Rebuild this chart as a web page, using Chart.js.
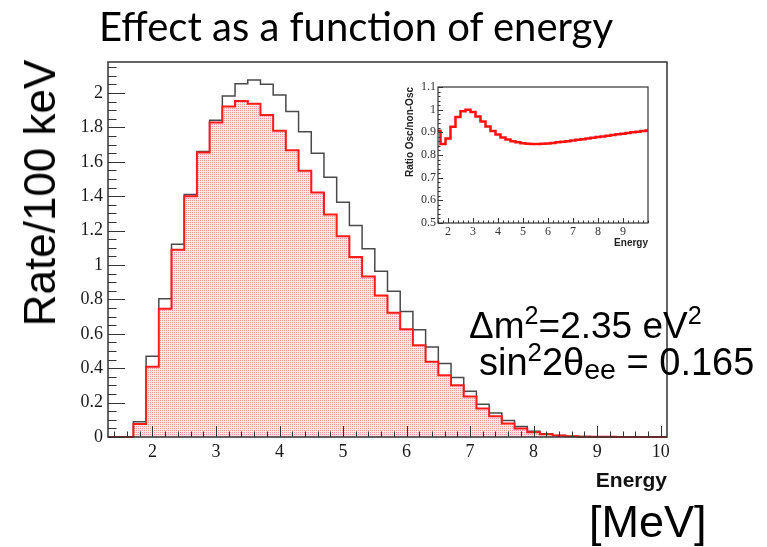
<!DOCTYPE html>
<html>
<head>
<meta charset="utf-8">
<script src="https://cdn.jsdelivr.net/npm/chart.js@4"></script>
<style>
  body { margin: 0; background: #fff; }
  #page { position: relative; width: 767px; height: 547px; overflow: hidden; font-family: "Liberation Sans", Arial, sans-serif; color: #000; }
  canvas { position: absolute; display: block; }
  .txt { position: absolute; white-space: nowrap; line-height: 1; }
  .txt sup { font-size: 0.68em; vertical-align: 0.55em; line-height: 0; }
  .txt sub { font-size: 0.75em; vertical-align: -0.15em; line-height: 0; }
  #title { left: 99px; top: 6px; font-family: Lato, "Open Sans", sans-serif; font-size: 40px; }
  #ylab { left: 40px; top: 193px; font-size: 44px; transform: translate(-50%, -50%) rotate(-90deg); }
  #unit { left: 589px; top: 499px; font-size: 45px; }
  #dm { left: 469px; top: 307px; font-size: 37px; }
  #s2 { left: 479px; top: 343px; font-size: 38px; }
</style>
</head>
<body>
<div id="page">
  <canvas id="main" width="767" height="547" style="left:0;top:0"></canvas>
  <canvas id="inset" width="260" height="185" style="left:400px;top:70px"></canvas>
  <div class="txt" id="title">Effect as a function of energy</div>
  <div class="txt" id="ylab">Rate/100 keV</div>
  <div class="txt" id="unit">[MeV]</div>
  <div class="txt" id="dm">Δm<sup>2</sup>=2.35 eV<sup>2</sup></div>
  <div class="txt" id="s2">sin<sup>2</sup>2θ<sub>ee</sub> = 0.165</div>
</div>
<script>
// energy bins (centres, MeV), 0.2 MeV wide
var energyBins = [1.4, 1.6, 1.8, 2.0, 2.2, 2.4, 2.6, 2.8, 3.0, 3.2, 3.4, 3.6, 3.8, 4.0, 4.2,
  4.4, 4.6, 4.8, 5.0, 5.2, 5.4, 5.6, 5.8, 6.0, 6.2, 6.4, 6.6, 6.8, 7.0, 7.2, 7.4, 7.6, 7.8,
  8.0, 8.2, 8.4, 8.6, 8.8, 9.0, 9.2, 9.4, 9.6, 9.8, 10.0];
var binHalf = 0.1;

// spectrum without oscillation
var noOscRate = [0, 0, 0.089, 0.47, 0.804, 1.12, 1.41, 1.66, 1.842, 1.983, 2.054, 2.075, 2.05,
  1.988, 1.892, 1.775, 1.649, 1.51, 1.364, 1.229, 1.094, 0.964, 0.848, 0.73, 0.624, 0.523,
  0.427, 0.346, 0.266, 0.19, 0.14, 0.096, 0.061, 0.034, 0.019, 0.009, 0.005, 0.003, 0.002,
  0.001, 0.001, 0, 0, 0];

// spectrum with oscillation
var oscRate = [0, 0, 0.075, 0.408, 0.746, 1.088, 1.40, 1.654, 1.828, 1.921, 1.954, 1.938, 1.872,
  1.78, 1.667, 1.548, 1.422, 1.293, 1.167, 1.047, 0.933, 0.823, 0.723, 0.626, 0.533, 0.437,
  0.359, 0.301, 0.236, 0.166, 0.12, 0.079, 0.05, 0.027, 0.016, 0.008, 0.004, 0.002, 0.001,
  0.001, 0, 0, 0, 0];

// ratio osc / non-osc
var ratioBins = [1.6, 1.8, 2.0, 2.2, 2.4, 2.6, 2.8, 3.0, 3.2, 3.4, 3.6, 3.8, 4.0, 4.2, 4.4,
  4.6, 4.8, 5.0, 5.2, 5.4, 5.6, 5.8, 6.0, 6.2, 6.4, 6.6, 6.8, 7.0, 7.2, 7.4, 7.6, 7.8, 8.0,
  8.2, 8.4, 8.6, 8.8, 9.0, 9.2, 9.4, 9.6, 9.8, 10.0];
var ratio = [0.907, 0.849, 0.873, 0.925, 0.968, 0.993, 1.0, 0.99, 0.97, 0.948, 0.926, 0.906,
  0.89, 0.877, 0.868, 0.861, 0.856, 0.852, 0.85, 0.849, 0.849, 0.85, 0.851, 0.853, 0.856,
  0.858, 0.861, 0.864, 0.867, 0.87, 0.873, 0.876, 0.879, 0.882, 0.885, 0.888, 0.891, 0.894,
  0.897, 0.9, 0.903, 0.906, 0.908];

var mainXTicks = [2, 3, 4, 5, 6, 7, 8, 9, 10];
var mainYTicks = [0, 0.2, 0.4, 0.6, 0.8, 1, 1.2, 1.4, 1.6, 1.8, 2];
var mainYLabels = ['0', '0.2', '0.4', '0.6', '0.8', '1', '1.2', '1.4', '1.6', '1.8', '2'];
var insetXTicks = [2, 3, 4, 5, 6, 7, 8, 9];
var insetYTicks = [0.5, 0.6, 0.7, 0.8, 0.9, 1, 1.1];
var insetYLabels = ['0.5', '0.6', '0.7', '0.8', '0.9', '1', '1.1'];

Chart.defaults.color = '#1a1a1a';

// bin contents -> points on the left edges, closed on the last right edge
function stepPoints(centers, values) {
  var pts = centers.map(function (c, i) { return { x: c - binHalf, y: values[i] }; });
  pts.push({ x: centers[centers.length - 1] + binHalf, y: values[values.length - 1] });
  return pts;
}

function dotPattern(ctx) {
  var c = document.createElement('canvas');
  c.width = 2; c.height = 2;
  var g = c.getContext('2d');
  g.fillStyle = '#fde6e6';
  g.fillRect(0, 0, 2, 2);
  g.fillStyle = '#f39898';
  g.fillRect(0, 0, 1, 1);
  return ctx.createPattern(c, 'repeat');
}

function eachTick(min, max, step, fn) {
  var k0 = Math.ceil(min / step - 1e-6), k1 = Math.floor(max / step + 1e-6);
  for (var k = k0; k <= k1; k++) fn(+(k * step).toFixed(6));
}
function isMajor(v, list) {
  return list.some(function (m) { return Math.abs(m - v) < 1e-6; });
}

// ROOT style box: frame plus inward major/minor ticks
var rootFrame = {
  id: 'rootFrame',
  afterDatasetsDraw: function (chart, args, o) {
    var ctx = chart.ctx, a = chart.chartArea;
    var xs = chart.scales.x, ys = chart.scales.y;
    ctx.save();
    ctx.strokeStyle = o.color;
    ctx.lineWidth = 1;
    ctx.beginPath();
    eachTick(xs.min, xs.max, o.xStep, function (v) {
      var len = isMajor(v, o.xMajor) ? o.xLen : o.xLen / 2;
      var px = Math.round(xs.getPixelForValue(v)) + 0.5;
      ctx.moveTo(px, a.bottom);
      ctx.lineTo(px, a.bottom - len);
    });
    eachTick(ys.min, ys.max, o.yStep, function (v) {
      var len = isMajor(v, o.yMajor) ? o.yLen : o.yLen / 2;
      var py = Math.round(ys.getPixelForValue(v)) + 0.5;
      ctx.moveTo(a.left, py);
      ctx.lineTo(a.left + len, py);
    });
    ctx.stroke();
    ctx.lineWidth = o.frameWidth;
    ctx.strokeRect(a.left, a.top, a.right - a.left, a.bottom - a.top);
    ctx.restore();
  }
};

var noGrid = { display: false, drawTicks: false };

var mainCtx = document.getElementById('main').getContext('2d');
new Chart(mainCtx, {
  type: 'line',
  data: {
    datasets: [
      {
        label: 'osc',
        data: stepPoints(energyBins, oscRate),
        stepped: 'before',
        borderColor: '#ff1c1c',
        borderWidth: 2,
        pointRadius: 0,
        fill: 'origin',
        backgroundColor: dotPattern(mainCtx),
        clip: { left: 0, top: 0, right: 0, bottom: 2 },
        order: 0
      },
      {
        label: 'no osc',
        data: stepPoints(energyBins, noOscRate),
        stepped: 'before',
        borderColor: '#4a4a4a',
        borderWidth: 1.5,
        pointRadius: 0,
        fill: false,
        clip: { left: 0, top: 0, right: 0, bottom: 2 },
        order: 1
      }
    ]
  },
  options: {
    responsive: false,
    animation: false,
    events: [],
    layout: { padding: { top: 62, right: 100, left: 0, bottom: 0 } },
    plugins: {
      legend: { display: false },
      tooltip: { enabled: false },
      rootFrame: { color: '#333', frameWidth: 1.5, xMajor: mainXTicks, xStep: 0.2, xLen: 11, yMajor: mainYTicks, yStep: 0.05, yLen: 17 }
    },
    scales: {
      x: {
        type: 'linear',
        min: 1.3,
        max: 10.1,
        grid: noGrid,
        border: { display: false },
        afterFit: function (s) { s.height = 110; },
        afterBuildTicks: function (s) { s.ticks = mainXTicks.map(function (v) { return { value: v }; }); },
        ticks: {
          padding: 4,
          maxRotation: 0,
          autoSkip: false,
          font: { family: '"Liberation Serif", serif', size: 18 },
          callback: function (v) { return String(v); }
        },
        title: {
          display: true,
          text: 'Energy',
          align: 'end',
          color: '#111',
          font: { family: '"Liberation Sans", Arial, sans-serif', size: 21, weight: 'bold' },
          padding: { top: 0, bottom: 53 }
        }
      },
      y: {
        type: 'linear',
        min: 0,
        max: 2.18,
        grid: noGrid,
        border: { display: false },
        afterFit: function (s) { s.width = 108; },
        afterBuildTicks: function (s) { s.ticks = mainYTicks.map(function (v) { return { value: v }; }); },
        ticks: {
          padding: 5,
          autoSkip: false,
          font: { family: '"Liberation Serif", serif', size: 18 },
          callback: function (v, i) { return mainYLabels[i]; }
        }
      }
    }
  },
  plugins: [rootFrame]
});

new Chart(document.getElementById('inset'), {
  type: 'line',
  data: {
    datasets: [{
      label: 'ratio',
      data: stepPoints(ratioBins, ratio),
      stepped: 'before',
      borderColor: '#ff1010',
      borderWidth: 2.5,
      pointRadius: 0,
      fill: false
    }]
  },
  options: {
    responsive: false,
    animation: false,
    events: [],
    layout: { padding: { top: 17, right: 12, left: 0, bottom: 0 } },
    plugins: {
      legend: { display: false },
      tooltip: { enabled: false },
      rootFrame: { color: '#333', frameWidth: 1.2, xMajor: insetXTicks, xStep: 0.2, xLen: 5, yMajor: insetYTicks, yStep: 0.02, yLen: 5 }
    },
    scales: {
      x: {
        type: 'linear',
        min: 1.6,
        max: 10,
        grid: noGrid,
        border: { display: false },
        afterFit: function (s) { s.height = 32; },
        afterBuildTicks: function (s) { s.ticks = insetXTicks.map(function (v) { return { value: v }; }); },
        ticks: {
          padding: 2,
          maxRotation: 0,
          autoSkip: false,
          color: '#333',
          font: { family: '"Liberation Serif", serif', size: 12 },
          callback: function (v) { return String(v); }
        },
        title: {
          display: true,
          text: 'Energy',
          align: 'end',
          color: '#222',
          font: { family: '"Liberation Sans", Arial, sans-serif', size: 10, weight: 'bold' },
          padding: { top: 0, bottom: 6 }
        }
      },
      y: {
        type: 'linear',
        min: 0.5,
        max: 1.1,
        grid: noGrid,
        border: { display: false },
        afterFit: function (s) { s.width = 38; },
        afterBuildTicks: function (s) { s.ticks = insetYTicks.map(function (v) { return { value: v }; }); },
        ticks: {
          padding: 2,
          autoSkip: false,
          color: '#333',
          font: { family: '"Liberation Serif", serif', size: 12 },
          callback: function (v, i) { return insetYLabels[i]; }
        },
        title: {
          display: true,
          text: 'Ratio Osc/non-Osc',
          align: 'end',
          color: '#222',
          font: { family: '"Liberation Sans", Arial, sans-serif', size: 10, weight: 'bold' },
          padding: { top: 4, bottom: 0 }
        }
      }
    }
  },
  plugins: [rootFrame]
});
</script>
</body>
</html>
